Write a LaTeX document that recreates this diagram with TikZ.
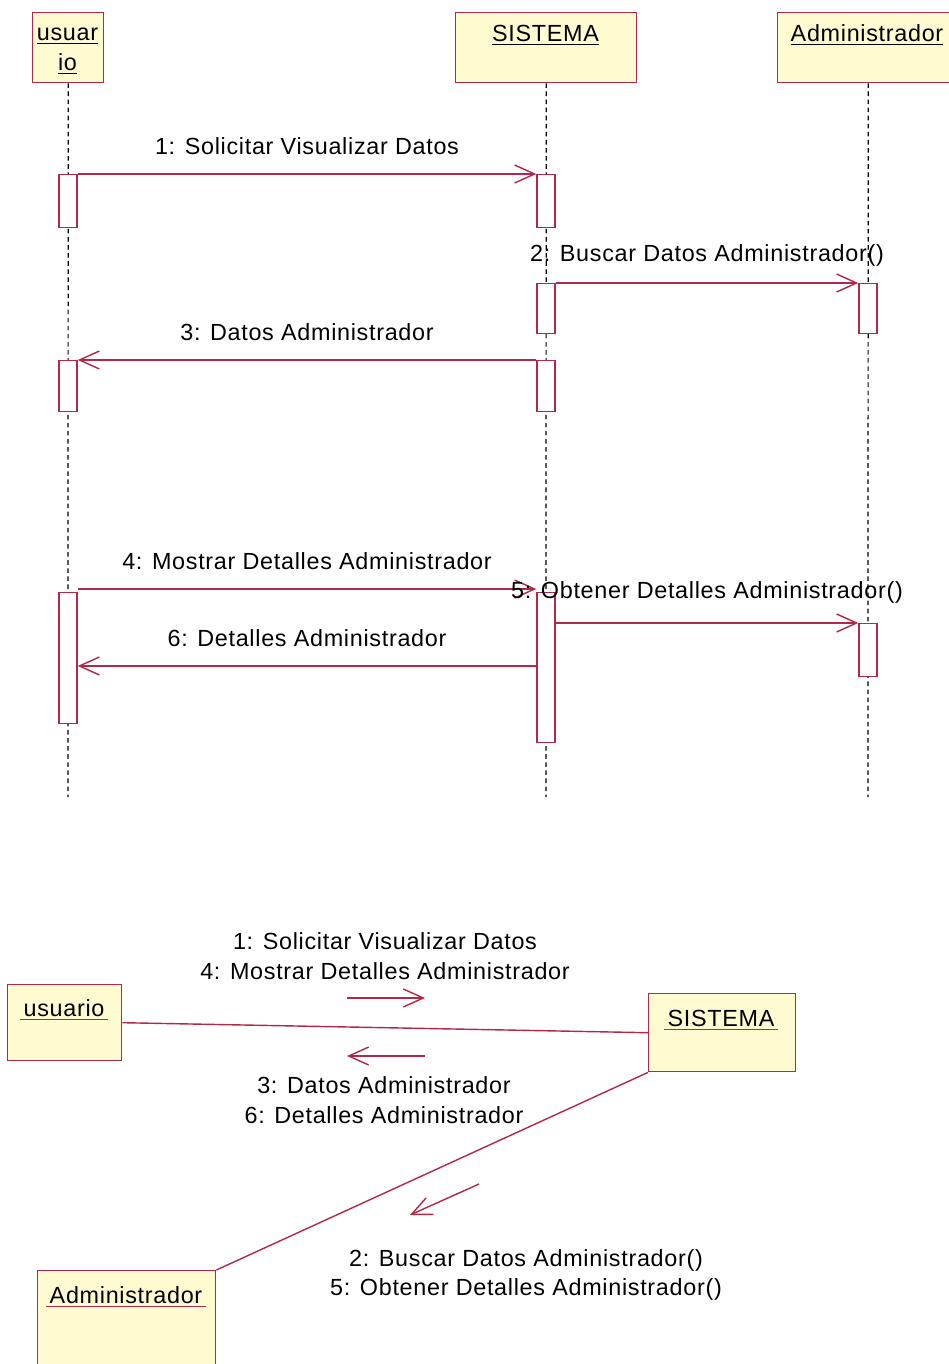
\documentclass[tikz,border=0pt]{standalone}
\usepackage{fontspec}
\setmainfont[LetterSpace=3]{Liberation Sans}
\usetikzlibrary{arrows.meta}
\definecolor{umlred}{RGB}{178,40,72}
\definecolor{umlfill}{RGB}{255,251,208}
\newcommand{\redul}[1]{{\color{umlred}\underline{\color{black}\,#1\,}}}

\begin{document}
\begin{tikzpicture}[x=0.02cm, y=-0.02cm, font=\fontsize{13.3}{17}\selectfont,
  obj/.style={draw=umlred, fill=umlfill, line width=0.8pt, anchor=north west, inner sep=0pt},
  act/.style={draw=umlred, fill=white, line width=0.8pt, minimum width=0.36cm, anchor=north, inner sep=0pt},
  life/.style={draw=black, line width=0.7pt, dash pattern=on 2.6pt off 2pt},
  msg/.style={draw=umlred, line width=0.8pt, -{Straight Barb[length=0.4cm, width=0.36cm]}},
  link/.style={draw=umlred, line width=0.8pt},
  lbl/.style={midway, yshift=0.56cm}]
  \useasboundingbox (0,0) rectangle (948,1364);
  % sequence diagram
  \node[obj, minimum width=1.42cm, minimum height=1.4cm] (usr) at (32,12) {};
  \node[obj, minimum width=3.62cm, minimum height=1.4cm] (sis) at (455,12) {};
  \node[obj, minimum width=3.62cm, minimum height=1.4cm] (adm) at (777,12) {};
  \node[align=center] (usrT) at (67.5,51) {\underline{usuar}\\\underline{io}};
  \node (sisT) at (545.5,35) {\underline{SISTEMA}};
  \node (admT) at (867,35) {\underline{Administrador}};
  \coordinate (usrEnd) at (68,797);
  \coordinate (sisEnd) at (546,797);
  \coordinate (admEnd) at (868,797);
  \draw[life] (usr.south) -- (usrEnd);
  \draw[life] (sis.south) -- (sisEnd);
  \draw[life] (adm.south) -- (admEnd);
  \node[act, minimum height=1.06cm] (u1) at (68,174) {};
  \node[act, minimum height=1.02cm] (u2) at (68,360) {};
  \node[act, minimum height=2.62cm] (u3) at (68,592) {};
  \node[act, minimum height=1.06cm] (s1) at (546,174) {};
  \node[act, minimum height=1.0cm] (s2) at (546,283) {};
  \node[act, minimum height=1.02cm] (s3) at (546,360) {};
  \node[act, minimum height=3.0cm] (s4) at (546,592) {};
  \node[act, minimum height=1.0cm] (a1) at (868,283) {};
  \node[act, minimum height=1.06cm] (a2) at (868,623) {};
  \draw[msg] (u1.north east) -- node[lbl] (m1) {1: Solicitar Visualizar Datos} (s1.north west);
  \draw[msg] (s2.north east) -- node[lbl] (m2) {2: Buscar Datos Administrador()} (a1.north west);
  \draw[msg] (s3.north west) -- node[lbl] (m3) {3: Datos Administrador} (u2.north east);
  \draw[msg] ([yshift=0.06cm]u3.north east) -- node[lbl] (m4) {4: Mostrar Detalles Administrador} ([yshift=0.06cm]s4.north west);
  \draw[msg] (s4.east |- a2.north) -- node[lbl, yshift=0.06cm] (m5) {5: Obtener Detalles Administrador()} (a2.north west);
  \coordinate (m6) at ([yshift=-1.48cm]s4.north west);
  \draw[msg] (m6) -- node[lbl] (m6T) {6: Detalles Administrador} (u3.east |- m6);
  % collaboration diagram
  \node[obj, minimum width=2.28cm, minimum height=1.52cm] (cusr) at (7,984) {};
  \node[obj, minimum width=2.94cm, minimum height=1.56cm] (csis) at (648,993) {};
  \node[obj, minimum width=3.56cm, minimum height=2.2cm] (cadm) at (37,1270) {};
  \node (cusrT) at (64,1010) {\redul{usuario}};
  \node (csisT) at (721,1020) {\redul{SISTEMA}};
  \node (cadmT) at (126,1297) {\redul{Administrador}};
  \draw[link] (cusr.east) -- (csis.west);
  \draw[link] (csis.south west) -- (cadm.north east);
  \coordinate (f1a) at (347,998);
  \coordinate (f1b) at (425,998);
  \coordinate (f2a) at (425,1056);
  \coordinate (f2b) at (347,1056);
  \coordinate (f3a) at (479,1184);
  \coordinate (f3b) at (410,1215);
  \draw[msg] (f1a) -- (f1b);
  \draw[msg] (f2a) -- (f2b);
  \draw[msg] (f3a) -- (f3b);
  \node[align=center] (c1) at (385,956) {1: Solicitar Visualizar Datos\\4: Mostrar Detalles Administrador};
  \node[align=center] (c2) at (384,1100) {3: Datos Administrador\\6: Detalles Administrador};
  \node[align=center] (c3) at (526,1275) {2: Buscar Datos Administrador()\\5: Obtener Detalles Administrador()};
\end{tikzpicture}
\end{document}
